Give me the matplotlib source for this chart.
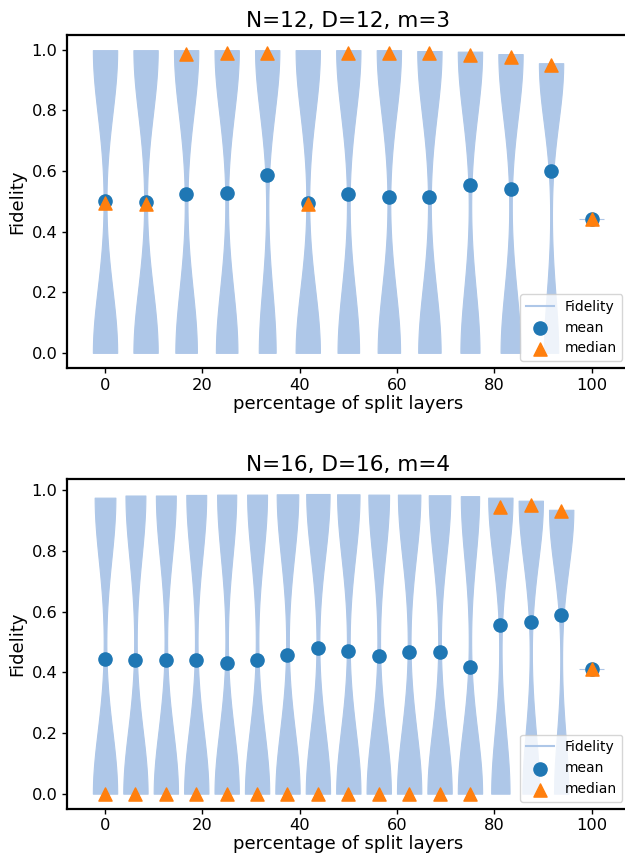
import numpy as np
import matplotlib
matplotlib.use("Agg")
import matplotlib.pyplot as plt
from matplotlib.lines import Line2D

N_RUNS = 100  # runs per setting

# ---------- Panel 1: N=12, D=12, m=3 ----------
title_12 = "N=12, D=12, m=3"
pct_12 = [0, 8.333, 16.667, 25, 33.333, 41.667, 50, 58.333, 66.667, 75, 83.333, 91.667, 100]
# fidelity of successful runs (top of violin)
top_12 = [0.998, 0.998, 0.998, 0.998, 0.998, 0.998, 0.998, 0.998, 0.995, 0.993, 0.985, 0.955, 0.44]
# number of successful runs (fidelity ~ top) out of N_RUNS, others ~ 0
nhigh_12 = [50, 50, 53, 53, 59, 50, 53, 52, 52, 56, 55, 63, 100]
mean_12 = [0.500, 0.498, 0.525, 0.526, 0.586, 0.495, 0.525, 0.515, 0.515, 0.552, 0.540, 0.600, 0.440]
median_12 = [0.495, 0.490, 0.985, 0.988, 0.990, 0.490, 0.988, 0.988, 0.988, 0.982, 0.975, 0.950, 0.440]

# ---------- Panel 2: N=16, D=16, m=4 ----------
title_16 = "N=16, D=16, m=4"
pct_16 = [0, 6.25, 12.5, 18.75, 25, 31.25, 37.5, 43.75, 50, 56.25, 62.5, 68.75, 75,
          81.25, 87.5, 93.75, 100]
top_16 = [0.975, 0.982, 0.982, 0.984, 0.985, 0.985, 0.986, 0.987, 0.986, 0.985, 0.985,
          0.983, 0.980, 0.975, 0.965, 0.935, 0.41]
nhigh_16 = [46, 45, 45, 45, 44, 45, 47, 49, 48, 46, 48, 47, 43, 57, 59, 63, 100]
mean_16 = [0.445, 0.440, 0.440, 0.440, 0.430, 0.440, 0.458, 0.480, 0.470, 0.455, 0.468,
           0.465, 0.418, 0.555, 0.567, 0.588, 0.410]
median_16 = [0.0, 0.0, 0.0, 0.0, 0.0, 0.0, 0.0, 0.0, 0.0, 0.0, 0.0, 0.0, 0.0,
             0.945, 0.952, 0.930, 0.410]

VIOLIN_COLOR = "#aec7e8"


def samples(top, nhigh):
    return [0.0] * (N_RUNS - nhigh) + [top] * nhigh


def panel(ax, title, pct, top, nhigh, mean, median):
    data = [samples(t, n) for t, n in zip(top, nhigh)]
    parts = ax.violinplot(data, positions=pct, widths=5, showextrema=False,
                          points=200, bw_method=0.42)
    for b in parts["bodies"]:
        b.set_facecolor(VIOLIN_COLOR)
        b.set_edgecolor(VIOLIN_COLOR)
        b.set_alpha(1)
        b.set_linewidth(0.8)
    mh = ax.scatter(pct, mean, s=90, color="C0", zorder=3, label="mean")
    dh = ax.scatter(pct, median, s=90, marker="^", color="C1", zorder=4, label="median")
    fh = Line2D([], [], color=VIOLIN_COLOR, label="Fidelity")
    ax.legend(handles=[fh, mh, dh], loc="lower right", fontsize=10)
    ax.set_title(title, fontsize=15.6)
    ax.set_ylabel("Fidelity", fontsize=13)
    ax.set_xlabel("percentage of split layers", fontsize=13, labelpad=1.5)
    ax.set_xticks([0, 20, 40, 60, 80, 100])
    ax.set_yticks([0.0, 0.2, 0.4, 0.6, 0.8, 1.0])
    ax.tick_params(labelsize=11.7, width=1.0)
    for s in ax.spines.values():
        s.set_linewidth(1.6)


fig = plt.figure(figsize=(6.25, 8.58), dpi=100)
ax1 = fig.add_axes([0.1077, 0.5711, 0.8992, 0.3881])
ax2 = fig.add_axes([0.1077, 0.0575, 0.8992, 0.3842])
panel(ax1, title_12, pct_12, top_12, nhigh_12, mean_12, median_12)
panel(ax2, title_16, pct_16, top_16, nhigh_16, mean_16, median_16)
fig.savefig("out.png", dpi=100)
